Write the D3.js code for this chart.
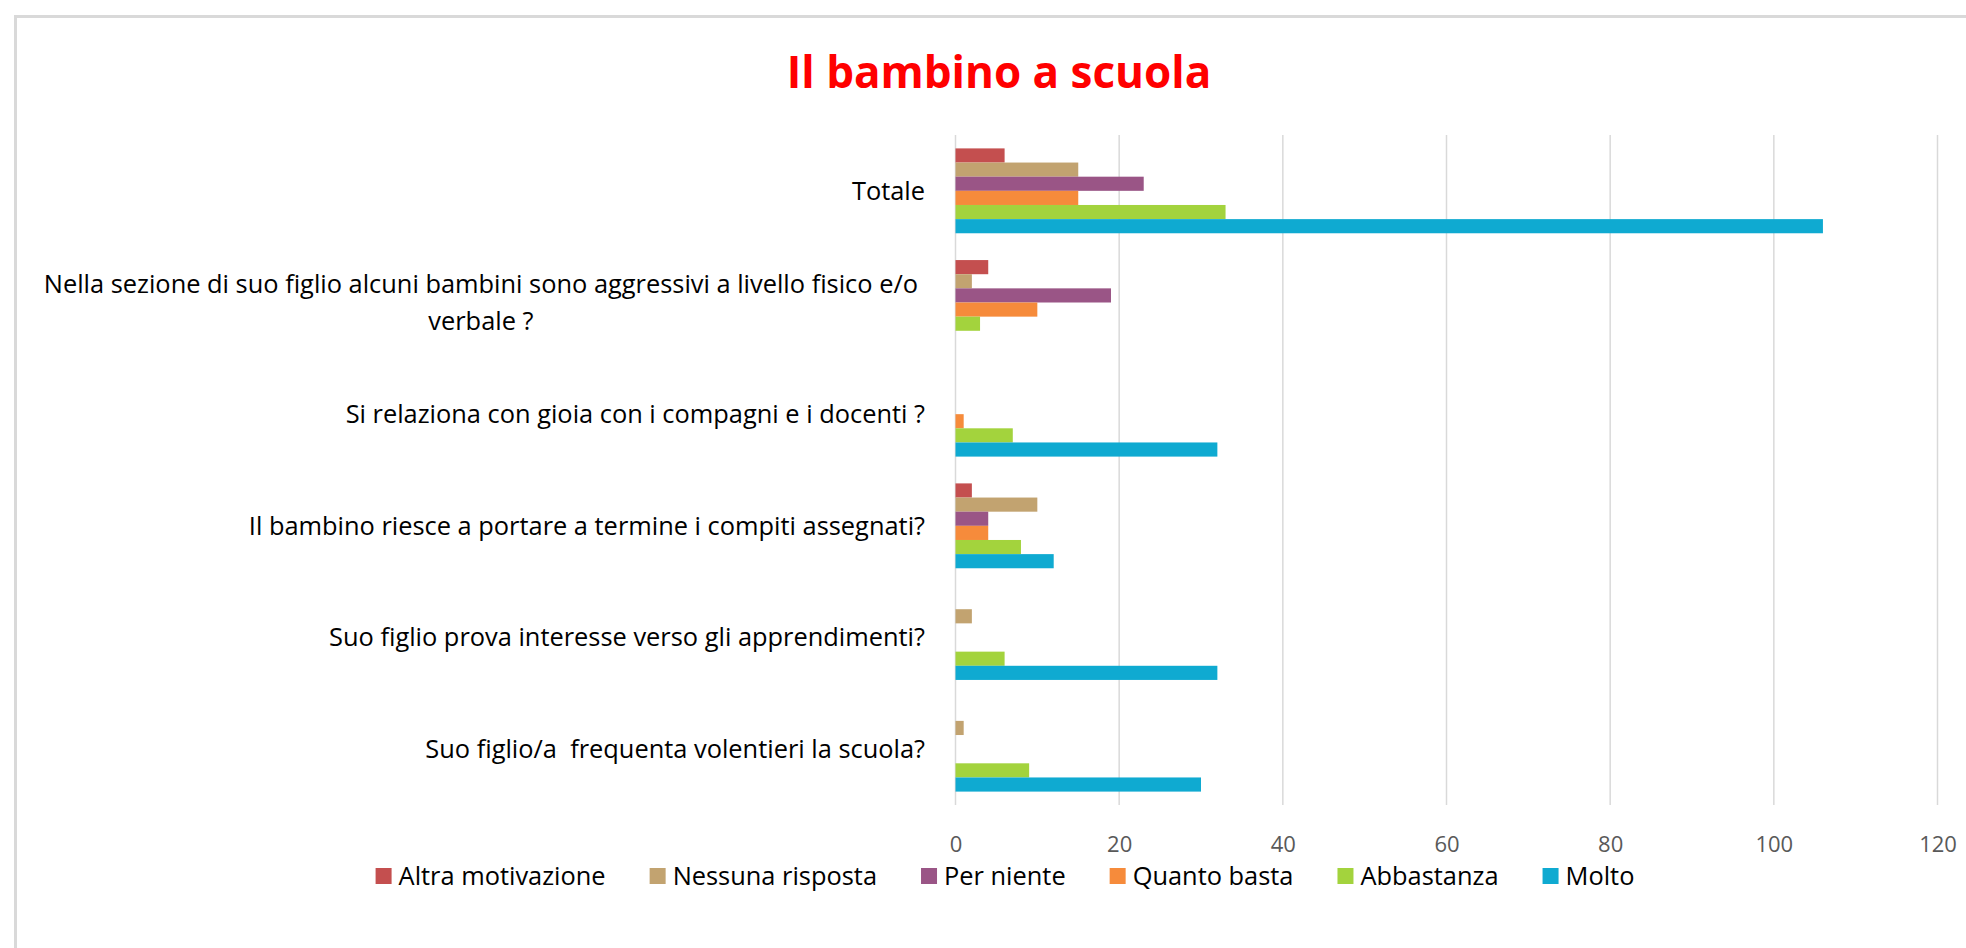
<!DOCTYPE html>
<html>
<head>
<meta charset="utf-8">
<script src="https://cdn.jsdelivr.net/npm/d3@7"></script>
<style>
  body { margin: 0; background: #fff; }
  svg text { font-family: "Open Sans", sans-serif; white-space: pre; }
</style>
</head>
<body>
<svg id="chart" width="1966" height="948"></svg>
<script>
// categories top to bottom, as in the picture
var categories = [
  "Totale",
  "Nella sezione di suo figlio alcuni bambini sono aggressivi a livello fisico e/o|verbale ?",
  "Si relaziona con gioia con i compagni e i docenti ?",
  "Il bambino riesce a portare a termine i compiti assegnati?",
  "Suo figlio prova interesse verso gli apprendimenti?",
  "Suo figlio/a  frequenta volentieri la scuola?"
]
var series = ["Altra motivazione", "Nessuna risposta", "Per niente", "Quanto basta", "Abbastanza", "Molto"]
var colors = ["#c44f4f", "#c2a370", "#9a5586", "#f68b3b", "#a3d33d", "#0faad1"]

var altra      = [6, 4, 0, 2, 0, 0]
var nessuna    = [15, 2, 0, 10, 2, 1]
var perNiente  = [23, 19, 0, 4, 0, 0]
var quanto     = [15, 10, 1, 4, 0, 0]
var abbastanza = [33, 3, 7, 8, 6, 9]
var molto      = [106, 0, 32, 12, 32, 30]
var xTicks = [0, 20, 40, 60, 80, 100, 120]

var values = [altra, nessuna, perNiente, quanto, abbastanza, molto]

var svg = d3.select("#chart")

// chart frame (runs off the right and bottom of the picture)
svg.append("rect")
  .attr("x", 15.5).attr("y", 16.5)
  .attr("width", 2100).attr("height", 1100)
  .attr("fill", "#fff")
  .attr("stroke", "#d9d9d9").attr("stroke-width", 3)

svg.append("text")
  .attr("x", 999).attr("y", 88)
  .attr("text-anchor", "middle")
  .attr("font-size", 44).attr("font-weight", "bold")
  .attr("fill", "#ff0000")
  .text("Il bambino a scuola")

var x = d3.scaleLinear().domain([0, 120]).range([955.5, 1937.5])
var y0 = d3.scaleBand().domain(categories).range([135, 805]).paddingInner(0.24).paddingOuter(0.12)
var y1 = d3.scaleBand().domain(series).range([0, y0.bandwidth()])

// gridlines
svg.append("g")
  .selectAll("line")
  .data(xTicks)
  .enter().append("line")
  .attr("x1", function (d) { return x(d) }).attr("x2", function (d) { return x(d) })
  .attr("y1", 135).attr("y2", 805)
  .attr("stroke", "#d9d9d9").attr("stroke-width", 1.5)

// x axis labels
var xAxis = svg.append("g")
  .attr("transform", "translate(0,805)")
  .call(d3.axisBottom(x).tickValues(xTicks).tickSize(0).tickPadding(0))
xAxis.select(".domain").remove()
xAxis.selectAll("text")
  .attr("dy", null).attr("y", 47)
  .attr("font-size", 22).attr("fill", "#595959")
  .style("font-family", "'Open Sans', sans-serif")

// bars
var groups = svg.append("g")
  .selectAll("g")
  .data(categories)
  .enter().append("g")
  .attr("transform", function (c) { return "translate(0," + y0(c) + ")" })

groups.selectAll("rect")
  .data(function (c, i) {
    return series.map(function (s, j) { return { s: s, v: values[j][i], color: colors[j] } })
  })
  .enter().append("rect")
  .attr("x", x(0))
  .attr("y", function (d) { return y1(d.s) })
  .attr("height", y1.bandwidth())
  .attr("width", function (d) { return x(d.v) - x(0) })
  .attr("fill", function (d) { return d.color })

// category labels
var labelFont = 25.4
var labels = svg.append("g")
  .selectAll("text")
  .data(categories)
  .enter().append("text")
  .attr("font-size", labelFont).attr("fill", "#000")

labels.each(function (c) {
  var t = d3.select(this)
  var lines = c.split("|")
  var cy = y0(c) + y0.bandwidth() / 2
  var lh = 37
  var top = cy - (lines.length - 1) * lh / 2
  if (lines.length == 1) {
    t.attr("x", 925).attr("y", cy).attr("dy", "0.35em").attr("text-anchor", "end").text(c)
  } else {
    // wrapped label: lines centered on the first one
    var tmp = t.append("tspan").text(lines[0])
    var w = tmp.node().getComputedTextLength()
    tmp.remove()
    var mid = 918 - w / 2
    t.attr("text-anchor", "middle")
    lines.forEach(function (l, k) {
      t.append("tspan").attr("x", mid).attr("y", top + k * lh).attr("dy", "0.35em").text(l)
    })
  }
})

// legend
var legend = svg.append("g")
var items = legend.selectAll("g")
  .data(series)
  .enter().append("g")
items.append("rect")
  .attr("width", 16).attr("height", 16).attr("y", -8)
  .attr("fill", function (d, i) { return colors[i] })
items.append("text")
  .attr("x", 23).attr("dy", "0.35em")
  .attr("font-size", labelFont).attr("fill", "#000")
  .text(function (d) { return d })

var pos = 0
var offsets = []
items.each(function () {
  offsets.push(pos)
  var w = d3.select(this).select("text").node().getComputedTextLength()
  pos += 23 + w + 44
})
var total = pos - 44
var start = 1005 - total / 2
items.attr("transform", function (d, i) { return "translate(" + (start + offsets[i]) + ",876)" })
</script>
</body>
</html>
